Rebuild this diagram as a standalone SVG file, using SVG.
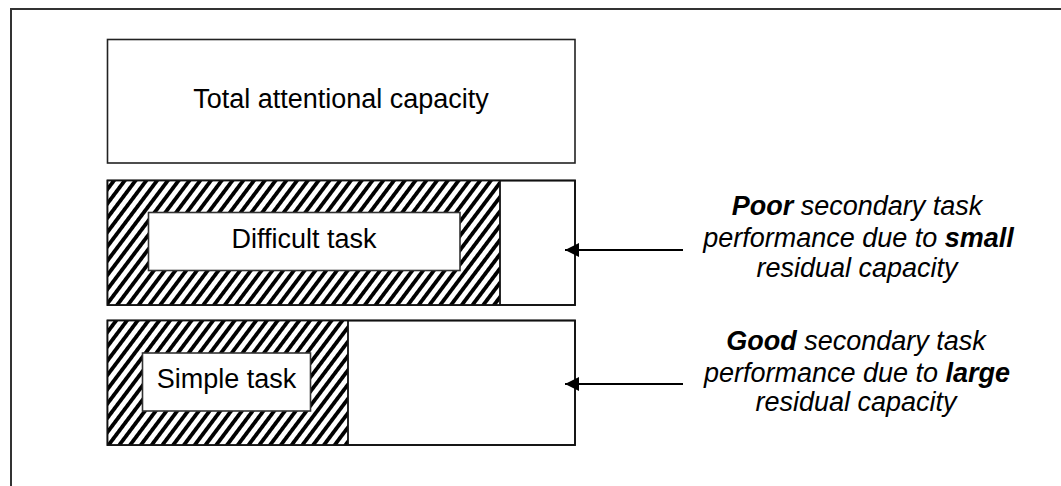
<svg xmlns="http://www.w3.org/2000/svg" width="1061" height="486" viewBox="0 0 1061 486">
<style>
.box{fill:#fff;stroke:#222;stroke-width:1.6}
.inner{fill:#fff;stroke:#333;stroke-width:1.6}
.hatch{fill:url(#hatch);stroke:none}
.t{font-family:"Liberation Sans",Arial,sans-serif;font-size:27px;fill:#000;text-anchor:middle}
.it{font-style:italic}
.b{font-weight:bold}
.conn{stroke:#000;stroke-width:1.8;fill:none}
</style>
<defs>
<pattern id="hatch" patternUnits="userSpaceOnUse" width="8.6" height="10" patternTransform="rotate(37)">
<rect x="0" y="0" width="8.6" height="10" fill="#fff"/>
<rect x="0" y="0" width="3.8" height="10" fill="#000"/>
</pattern>
<marker id="arr" viewBox="0 0 10 10" refX="10" refY="5" markerWidth="15" markerHeight="14" markerUnits="userSpaceOnUse" orient="auto">
<path d="M0,0 L10,5 L0,10 Z" fill="#000"/>
</marker>
</defs>
<rect x="11" y="9" width="1070" height="500" fill="none" stroke="#333" stroke-width="2"/>
<g id="total">
<rect class="box" x="107.5" y="39.5" width="467.5" height="123.5"/>
<text class="t" x="341" y="107.5">Total attentional capacity</text>
</g>
<g id="difficult">
<rect class="box" x="107.5" y="180.5" width="467.5" height="124.5"/>
<rect class="hatch" x="107.5" y="180.5" width="392.5" height="124.5"/>
<rect x="107.5" y="180.5" width="467.5" height="124.5" fill="none" stroke="#111" stroke-width="1.8"/>
<line x1="500" y1="180.5" x2="500" y2="305" stroke="#111" stroke-width="1.8"/>
<rect class="inner" x="148.5" y="212.5" width="311.5" height="58"/>
<text class="t" x="304" y="247.5">Difficult task</text>
</g>
<g id="simple">
<rect class="box" x="107.5" y="320.5" width="467.5" height="124.5"/>
<rect class="hatch" x="107.5" y="320.5" width="240.5" height="124.5"/>
<rect x="107.5" y="320.5" width="467.5" height="124.5" fill="none" stroke="#111" stroke-width="1.8"/>
<line x1="348" y1="320.5" x2="348" y2="445" stroke="#111" stroke-width="1.8"/>
<rect class="inner" x="142.5" y="353" width="168" height="58"/>
<text class="t" x="226.5" y="388">Simple task</text>
</g>
<g id="poor-label">
<text class="t it" x="857" y="215"><tspan class="b">Poor</tspan> secondary task</text>
<text class="t it" x="858.5" y="246.5">performance due to <tspan class="b">small</tspan></text>
<text class="t it" x="857" y="277">residual capacity</text>
</g>
<g id="good-label">
<text class="t it" x="856" y="350"><tspan class="b">Good</tspan> secondary task</text>
<text class="t it" x="857" y="381.5">performance due to <tspan class="b">large</tspan></text>
<text class="t it" x="856" y="411">residual capacity</text>
</g>
<g id="connectors">
<line class="conn" x1="683" y1="250" x2="565" y2="250" marker-end="url(#arr)"/>
<line class="conn" x1="683" y1="384" x2="565" y2="384" marker-end="url(#arr)"/>
</g>
</svg>
